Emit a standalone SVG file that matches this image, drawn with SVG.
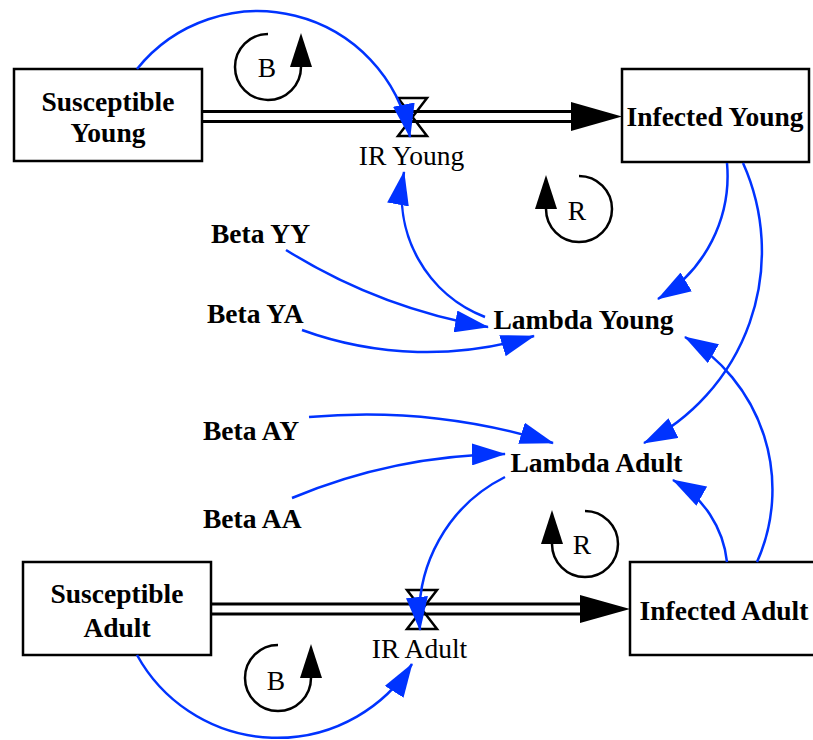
<svg xmlns="http://www.w3.org/2000/svg" width="813" height="740" viewBox="0 0 813 740">
<style>
.stock{fill:#fff;stroke:#000;stroke-width:2.5}
text{font-family:'Liberation Serif','Times New Roman','DejaVu Serif',serif;font-size:27.5px;fill:#000}
.lbl{font-weight:bold}
.link{fill:none;stroke:#0033ff;stroke-width:2.5}
.pipeo{fill:none;stroke:#000;stroke-width:13}
.pipei{fill:none;stroke:#fff;stroke-width:7}
.valve{fill:none;stroke:#000;stroke-width:2.5;stroke-linejoin:miter}
.loop{fill:none;stroke:#000;stroke-width:2.5}
</style>
<defs>
<marker id="ah" markerUnits="userSpaceOnUse" markerWidth="34" markerHeight="22" viewBox="0 0 34 22" refX="33" refY="11" orient="auto">
<path d="M0,0 L34,11 L0,22 Z" fill="#0033ff"/>
</marker>
<marker id="lh" markerUnits="userSpaceOnUse" markerWidth="34" markerHeight="22" viewBox="0 0 34 22" refX="0" refY="11" orient="auto">
<path d="M0,0 L34,11 L0,22 Z" fill="#000"/>
</marker>
</defs>

<g id="flows">
<g id="flow_ir_young">
<path class="pipeo" d="M202,116.5 H572"/>
<path class="pipei" d="M200,116.5 H574"/>
<polygon points="571,102 622,116.5 571,131" fill="#000"/>
<path class="valve" d="M398,98 L427,98 L398,136 L427,136 Z"/>
<text class="reg" x="411.5" y="165" text-anchor="middle" font-family="Liberation Serif, serif">IR Young</text>
</g>
<g id="flow_ir_adult">
<path class="pipeo" d="M211,609 H581"/>
<path class="pipei" d="M209,609 H583"/>
<polygon points="580,595 630,609 580,623" fill="#000"/>
<path class="valve" d="M407,590 L437,590 L407,629 L437,629 Z"/>
<text class="reg" x="419.5" y="658" text-anchor="middle" font-family="Liberation Serif, serif">IR Adult</text>
</g>
</g>

<g id="stock_susceptible_young">
<rect class="stock" x="14" y="69" width="188" height="92"/>
<text class="lbl" x="108" y="111" text-anchor="middle" font-family="Liberation Serif, serif">Susceptible</text>
<text class="lbl" x="108" y="142" text-anchor="middle" font-family="Liberation Serif, serif">Young</text>
</g>
<g id="stock_infected_young">
<rect class="stock" x="622" y="69" width="187" height="93"/>
<text class="lbl" x="715" y="126" text-anchor="middle" font-family="Liberation Serif, serif">Infected Young</text>
</g>
<g id="stock_susceptible_adult">
<rect class="stock" x="23" y="562" width="188" height="93"/>
<text class="lbl" x="117" y="603" text-anchor="middle" font-family="Liberation Serif, serif">Susceptible</text>
<text class="lbl" x="117" y="637" text-anchor="middle" font-family="Liberation Serif, serif">Adult</text>
</g>
<g id="stock_infected_adult">
<rect class="stock" x="630" y="562" width="190" height="93"/>
<text class="lbl" x="724" y="620" text-anchor="middle" font-family="Liberation Serif, serif">Infected Adult</text>
</g>

<g id="aux_lambda_young"><text class="lbl" x="583.5" y="329" text-anchor="middle" font-family="Liberation Serif, serif">Lambda Young</text></g>
<g id="aux_lambda_adult"><text class="lbl" x="596.5" y="472" text-anchor="middle" font-family="Liberation Serif, serif">Lambda Adult</text></g>
<g id="aux_beta_yy"><text class="lbl" x="211" y="243" font-family="Liberation Serif, serif">Beta YY</text></g>
<g id="aux_beta_ya"><text class="lbl" x="207" y="323" font-family="Liberation Serif, serif">Beta YA</text></g>
<g id="aux_beta_ay"><text class="lbl" x="203" y="440" font-family="Liberation Serif, serif">Beta AY</text></g>
<g id="aux_beta_aa"><text class="lbl" x="203" y="528" font-family="Liberation Serif, serif">Beta AA</text></g>

<g id="connectors">
<path class="link" marker-end="url(#ah)" d="M137,69 A155,155 0 0 1 410,137"/>
<path class="link" marker-end="url(#ah)" d="M485,317 A130,130 0 0 1 404,172"/>
<path class="link" marker-end="url(#ah)" d="M286,250 A564,564 0 0 0 488,327"/>
<path class="link" marker-end="url(#ah)" d="M302,330 A365,365 0 0 0 534,336"/>
<path class="link" marker-end="url(#ah)" d="M727,163 A144,144 0 0 1 658,299"/>
<path class="link" marker-end="url(#ah)" d="M743,163 A215,215 0 0 1 644,443"/>
<path class="link" marker-end="url(#ah)" d="M757,562 A177,177 0 0 0 685,337"/>
<path class="link" marker-end="url(#ah)" d="M727,562 A107,107 0 0 0 673,480"/>
<path class="link" marker-end="url(#ah)" d="M309,417 A629,629 0 0 1 553,443"/>
<path class="link" marker-end="url(#ah)" d="M292,498 A570,570 0 0 1 505,454"/>
<path class="link" marker-end="url(#ah)" d="M505,477 A155,155 0 0 0 420,630"/>
<path class="link" marker-end="url(#ah)" d="M137,655 A160,160 0 0 0 412,664"/>
</g>

<g id="loop_b_young">
<path class="loop" marker-end="url(#lh)" d="M268,34 A33,33 0 1 0 301,67"/>
<text x="267" y="77" text-anchor="middle" font-family="Liberation Serif, serif">B</text>
</g>
<g id="loop_r_young">
<path class="loop" marker-end="url(#lh)" d="M579,176 A33,33 0 1 1 546,209"/>
<text x="577" y="220" text-anchor="middle" font-family="Liberation Serif, serif">R</text>
</g>
<g id="loop_r_adult">
<path class="loop" marker-end="url(#lh)" d="M585,511 A33,33 0 1 1 552,544"/>
<text x="582" y="554" text-anchor="middle" font-family="Liberation Serif, serif">R</text>
</g>
<g id="loop_b_adult">
<path class="loop" marker-end="url(#lh)" d="M278,645 A33,33 0 1 0 311,678"/>
<text x="276" y="690" text-anchor="middle" font-family="Liberation Serif, serif">B</text>
</g>
</svg>
